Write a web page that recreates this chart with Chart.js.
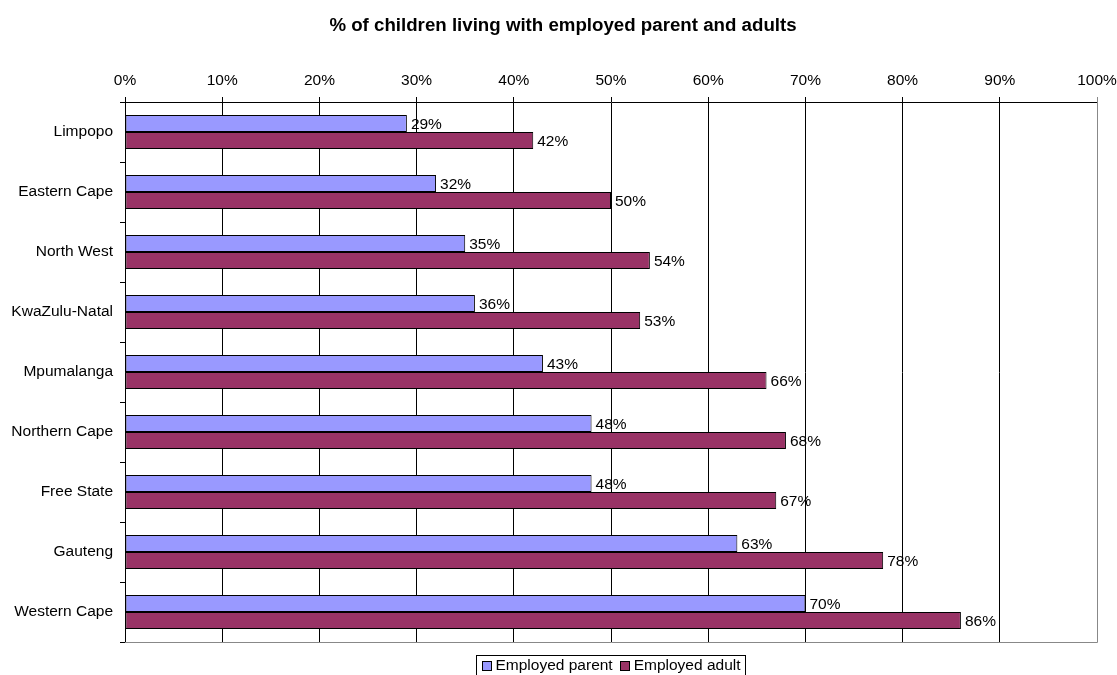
<!DOCTYPE html>
<html>
<head>
<meta charset="utf-8">
<script src="https://cdn.jsdelivr.net/npm/chart.js@4/dist/chart.umd.min.js"></script>
<style>
  html, body { margin: 0; padding: 0; background: #fff; }
  #wrap { width: 1117px; height: 675px; }
</style>
</head>
<body>
<div id="wrap"><canvas id="chart" width="1117" height="675"></canvas></div>
<script>
const provinces = ['Limpopo', 'Eastern Cape', 'North West', 'KwaZulu-Natal', 'Mpumalanga',
    'Northern Cape', 'Free State', 'Gauteng', 'Western Cape'];
const employedParent = [29, 32, 35, 36, 43, 48, 48, 63, 70];
const employedAdult = [42, 50, 54, 53, 66, 68, 67, 78, 86];
const seriesNames = ['Employed parent', 'Employed adult'];
const seriesColors = ['#9999FF', '#993366'];
const titleText = '% of children living with employed parent and adults';

const FONT = '"Liberation Sans", Arial, sans-serif';
const FSIZE = 15.5;

// value labels, grey frame, title and boxed legend
const extras = {
    id: 'extras',
    afterDatasetsDraw(chart) {
        const ctx = chart.ctx;
        ctx.save();
        ctx.font = FSIZE + 'px ' + FONT;
        ctx.fillStyle = '#000';
        ctx.textBaseline = 'middle';
        ctx.textAlign = 'left';
        chart.data.datasets.forEach(function (ds, i) {
            chart.getDatasetMeta(i).data.forEach(function (bar, j) {
                ctx.fillText(ds.data[j] + '%', bar.x + 4, bar.y + 1);
            });
        });
        const a = chart.chartArea;
        ctx.strokeStyle = '#888';
        ctx.lineWidth = 1;
        ctx.beginPath();
        ctx.moveTo(a.left, a.bottom + 0.5);
        ctx.lineTo(a.right + 0.5, a.bottom + 0.5);
        ctx.lineTo(a.right + 0.5, a.top);
        ctx.stroke();
        ctx.restore();
    },
    afterDraw(chart) {
        const ctx = chart.ctx;
        ctx.save();
        ctx.font = 'bold 18.7px ' + FONT;
        ctx.fillStyle = '#000';
        ctx.textAlign = 'center';
        ctx.textBaseline = 'middle';
        ctx.fillText(titleText, 563, 26);

        // legend
        ctx.font = FSIZE + 'px ' + FONT;
        ctx.textAlign = 'left';
        const sq = 10, gap = 4, between = 7, pad = 5;
        let total = 0;
        seriesNames.forEach(function (n, i) {
            total += sq + gap + ctx.measureText(n).width + (i ? between : 0);
        });
        const boxW = Math.round(total + pad * 2);
        const boxX = Math.round(610 - boxW / 2) + 0.5;
        const boxY = 655.5, boxH = 20;
        ctx.strokeStyle = '#000';
        ctx.lineWidth = 1;
        ctx.strokeRect(boxX, boxY, boxW, boxH);
        let x = boxX + pad;
        const cy = 666;
        seriesNames.forEach(function (n, i) {
            if (i) x += between;
            ctx.fillStyle = seriesColors[i];
            ctx.fillRect(Math.round(x), cy - 5, sq, sq);
            ctx.strokeStyle = '#000';
            ctx.strokeRect(Math.round(x) + 0.5, cy - 4.5, sq - 1, sq - 1);
            x += sq + gap;
            ctx.fillStyle = '#000';
            ctx.fillText(n, x, cy);
            x += ctx.measureText(n).width;
        });
        ctx.restore();
    }
};

new Chart('chart', {
    type: 'bar',
    data: {
        labels: provinces,
        datasets: [
            {
                label: seriesNames[0],
                data: employedParent,
                backgroundColor: seriesColors[0],
                borderColor: '#000',
                borderWidth: 1,
                borderSkipped: false
            },
            {
                label: seriesNames[1],
                data: employedAdult,
                backgroundColor: seriesColors[1],
                borderColor: '#000',
                borderWidth: 1,
                borderSkipped: false
            }
        ]
    },
    options: {
        indexAxis: 'y',
        responsive: false,
        animation: false,
        devicePixelRatio: 1,
        layout: { padding: { top: 62, right: 20, left: 0, bottom: 33 } },
        categoryPercentage: 0.567,
        barPercentage: 1,
        scales: {
            x: {
                position: 'top',
                min: 0,
                max: 100,
                afterFit: function (scale) {
                    scale.height = 40;
                    scale.paddingLeft = 0;
                    scale.paddingRight = 0;
                },
                ticks: {
                    stepSize: 10,
                    color: '#000',
                    font: { family: FONT, size: FSIZE },
                    padding: 7,
                    callback: function (v) { return v + '%'; }
                },
                grid: {
                    color: function (c) { return c.tick && c.tick.value === 100 ? '#888' : '#000'; },
                    tickLength: 5,
                    lineWidth: 1
                },
                border: { color: '#000', width: 1 }
            },
            y: {
                afterFit: function (scale) { scale.width = 125; },
                ticks: {
                    color: '#000',
                    font: { family: FONT, size: FSIZE },
                    padding: 7
                },
                grid: {
                    offset: true,
                    drawOnChartArea: false,
                    tickLength: 5,
                    color: '#000'
                },
                border: { color: '#000', width: 1 }
            }
        },
        plugins: {
            title: { display: false },
            tooltip: { enabled: false },
            legend: { display: false }
        }
    },
    plugins: [extras]
});
</script>
</body>
</html>
